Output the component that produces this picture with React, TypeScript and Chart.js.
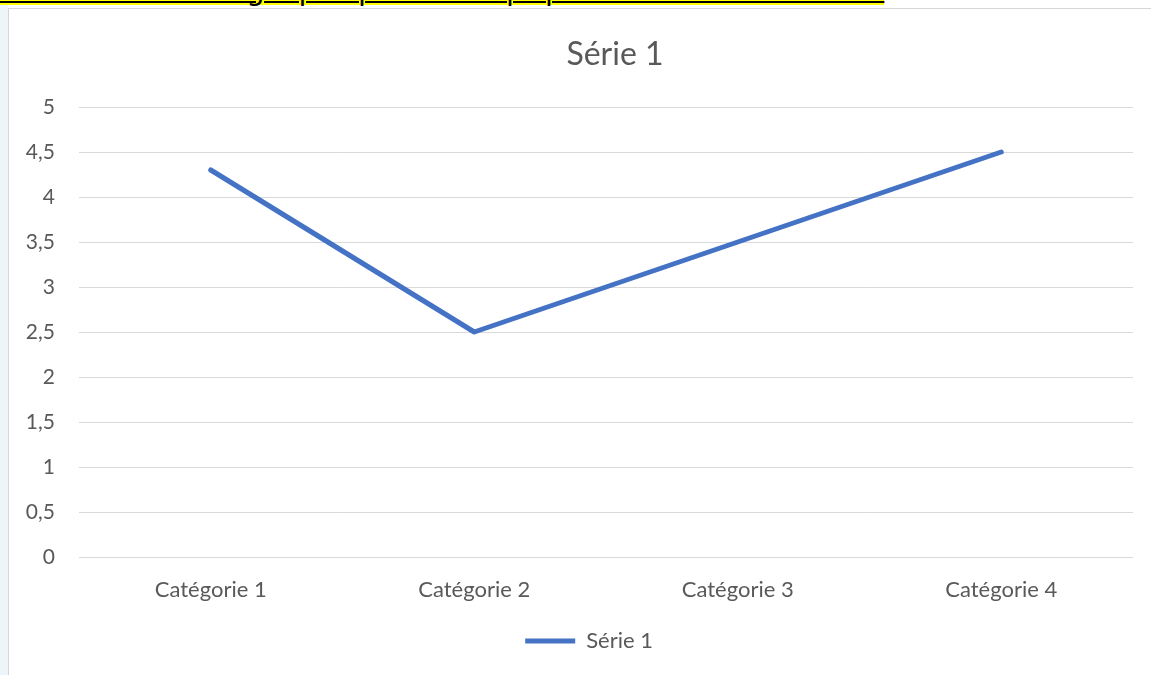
import React, { useEffect, useRef } from "react";
import { Chart, registerables } from "chart.js";

Chart.register(...registerables);

const heading = "Evolution démographique de la population de Bordeaux";
const chartTitle = "Série 1";
const categories = ["Catégorie 1", "Catégorie 2", "Catégorie 3", "Catégorie 4"];
const seriesName = "Série 1";
const serie1 = [4.3, 2.5, 3.5, 4.5];
const yMin = 0;
const yMax = 5;
const yStep = 0.5;

const TEXT = "#595959";
const FONT = "Lato, 'Noto Sans', sans-serif";

export default function App() {
  const ref = useRef<HTMLCanvasElement | null>(null);

  useEffect(() => {
    const canvas = ref.current;
    if (!canvas) return;
    const chart = new Chart(canvas, {
      type: "line",
      data: {
        labels: categories,
        datasets: [
          {
            label: seriesName,
            data: serie1,
            borderColor: "#4472C4",
            backgroundColor: "#4472C4",
            borderWidth: 5,
            borderCapStyle: "round",
            borderJoinStyle: "round",
            pointRadius: 0,
            pointHoverRadius: 0,
            tension: 0,
            pointStyle: "line",
            yAxisID: "y",
          },
        ],
      },
      options: {
        responsive: false,
        animation: false,
        devicePixelRatio: 1,
        layout: { padding: { left: 0, right: 0, top: 0, bottom: 13 } },
        plugins: {
          title: {
            display: true,
            text: chartTitle,
            color: TEXT,
            font: { family: FONT, size: 32, weight: "normal", lineHeight: 1.2 },
            padding: { top: 26.8, bottom: 32.8 },
          },
          legend: {
            display: true,
            position: "bottom",
            fullSize: false,
            labels: {
              usePointStyle: true,
              pointStyle: "line",
              pointStyleWidth: 50,
              color: TEXT,
              font: { family: FONT, size: 22 },
              padding: 23,
              generateLabels: (c: any) => {
                const items = Chart.defaults.plugins.legend.labels.generateLabels(c);
                // trailing spaces offset the legend entry like the original layout
                return items.map((it: any) => ({ ...it, text: it.text + "      " }));
              },
            },
          },
          tooltip: { enabled: false },
        },
        scales: {
          x: {
            type: "category",
            offset: true,
            grid: { display: false, drawTicks: false },
            border: { display: false },
            ticks: {
              color: TEXT,
              font: { family: FONT, size: 22, lineHeight: 1.2 },
              padding: 19.8,
              maxRotation: 0,
              autoSkip: false,
            },
            afterFit: (scale: any) => {
              scale.height = 50;
            },
          },
          y: {
            min: yMin,
            max: yMax,
            grid: { color: "#d9d9d9", lineWidth: 1, drawTicks: false },
            border: { display: false },
            ticks: {
              stepSize: yStep,
              color: TEXT,
              font: { family: FONT, size: 21 },
              padding: 24,
              callback: (v: any) => String(v).replace(".", ","),
            },
            afterFit: (scale: any) => {
              scale.width = 70;
            },
          },
          yRight: {
            position: "right",
            min: yMin,
            max: yMax,
            grid: { display: false, drawTicks: false },
            border: { display: false },
            ticks: { display: false },
            afterFit: (scale: any) => {
              scale.width = 88;
            },
          },
        },
      },
    });
    return () => chart.destroy();
  }, []);

  return (
    <div
      style={{
        position: "fixed",
        left: 0,
        top: 0,
        width: 1151,
        height: 675,
        overflow: "hidden",
        background: "#ffffff",
      }}
    >
      <div
        style={{
          position: "absolute",
          left: 0,
          top: 0,
          width: 8,
          height: 675,
          background: "#edf5f9",
        }}
      />
      <div
        style={{
          position: "absolute",
          left: 0,
          top: -25,
          height: 30,
          lineHeight: "30px",
          whiteSpace: "nowrap",
          fontFamily: "'DejaVu Sans', sans-serif",
          fontSize: 29,
          color: "#000",
          background: "#ffff00",
          textDecoration: "underline",
          textDecorationThickness: "1.5px",
          letterSpacing: "1.4px",
        }}
      >
        {heading}
      </div>
      <div
        style={{
          position: "absolute",
          left: 8,
          top: 8,
          width: 1300,
          height: 667,
          background: "#ffffff",
          borderTop: "1px solid #d6d6d6",
          borderLeft: "1px solid #d6d6d6",
          overflow: "hidden",
        }}
      >
        <canvas
          ref={ref}
          width={1212}
          height={666}
          style={{ display: "block", width: 1212, height: 666 }}
        />
      </div>
    </div>
  );
}
